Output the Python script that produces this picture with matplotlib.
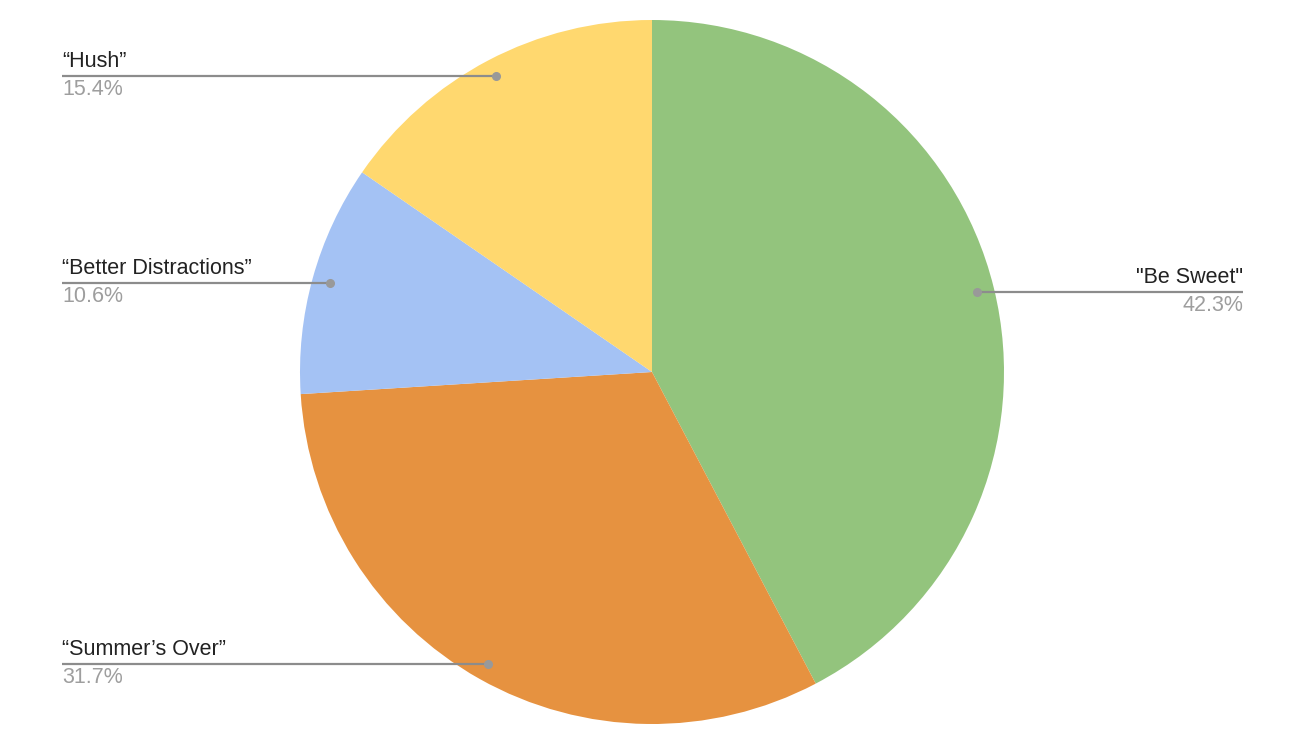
import numpy as np
import matplotlib
matplotlib.use("Agg")
import matplotlib.pyplot as plt

labels = ['"Be Sweet"', '\u201cSummer\u2019s Over\u201d', '\u201cBetter Distractions\u201d', '\u201cHush\u201d']
values = [42.3, 31.7, 10.6, 15.4]
colors = ['#93C47D', '#E69240', '#A4C2F4', '#FFD86F']

W, H = 1300, 738
cx, cy, R = 652, 372, 352

fig = plt.figure(figsize=(W / 100, H / 100), dpi=100)
ax = fig.add_axes([0, 0, 1, 1])

wedges, _ = ax.pie(values, colors=colors, startangle=90, counterclock=False,
                   radius=1.0, center=(0, 0), frame=True,
                   wedgeprops=dict(linewidth=0))
ax.set_aspect('equal')
ax.set_xlim(-cx / R, (W - cx) / R)
ax.set_ylim(-(H - cy) / R, cy / R)
ax.axis('off')

font = 'Liberation Sans'
left_x = (62 - cx) / R
right_x = (1243 - cx) / R
total = sum(values)
cum = 0
for lab, v, w in zip(labels, values, wedges):
    mid = (cum + v / 2) / total
    cum += v
    ang = np.deg2rad(90 - mid * 360)
    px, py = 0.95 * np.cos(ang), 0.95 * np.sin(ang)
    if px > 0:
        ex, ha = right_x, 'right'
    else:
        ex, ha = left_x, 'left'
    ax.plot([px, ex], [py, py], color='#8c8c8c', lw=1.6, solid_capstyle='butt', zorder=3)
    ax.plot([px], [py], 'o', color='#999999', ms=5.5, zorder=4)
    ax.text(ex, py + 4 / R, lab, ha=ha, va='bottom', fontsize=15.5, color='#222222', family=font)
    ax.text(ex, py - 3 / R, f'{v:.1f}%', ha=ha, va='top', fontsize=15.5, color='#9e9e9e', family=font)

fig.savefig('out.png', dpi=100, facecolor='white')
